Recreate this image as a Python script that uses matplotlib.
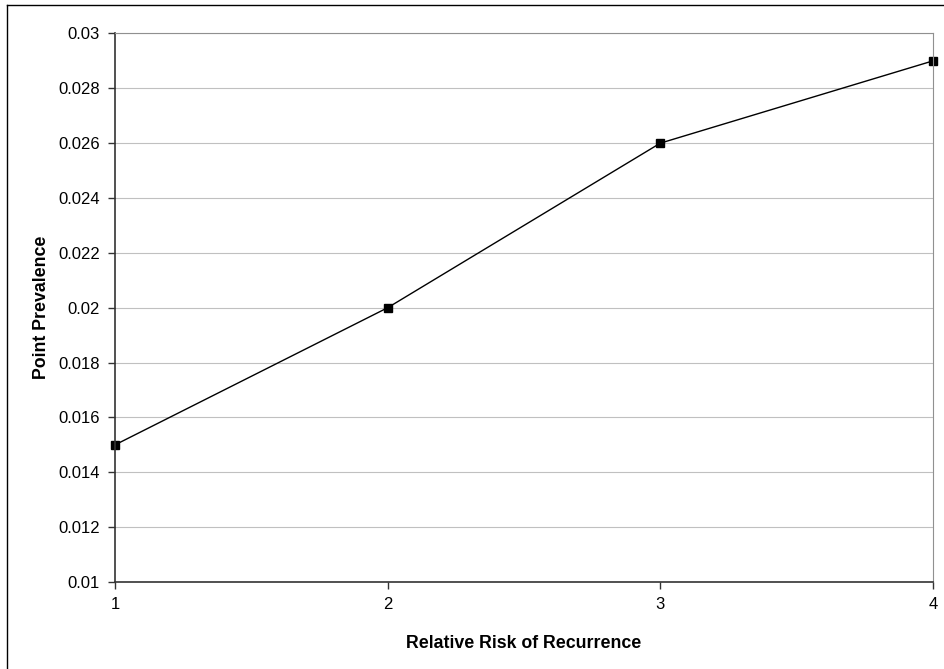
import matplotlib
matplotlib.use("Agg")
import matplotlib.pyplot as plt
from matplotlib.lines import Line2D

plt.rcParams["font.family"] = ["Liberation Sans", "DejaVu Sans"]

risk = [1, 2, 3, 4]
prevalence = [0.015, 0.020, 0.026, 0.029]
y_ticks = [0.01, 0.012, 0.014, 0.016, 0.018, 0.02, 0.022, 0.024, 0.026, 0.028, 0.03]
y_labels = ["0.01", "0.012", "0.014", "0.016", "0.018", "0.02", "0.022",
            "0.024", "0.026", "0.028", "0.03"]

fig = plt.figure(figsize=(9.44, 6.69), dpi=100)
ax = fig.add_axes([0.1218, 0.130, 0.8665, 0.820])

ax.plot(risk, prevalence, color="black", linewidth=1.0, clip_on=False,
        marker="s", markersize=6, markerfacecolor="black", markeredgecolor="black")

ax.set_xlim(1, 4)
ax.set_ylim(0.01, 0.03)
ax.set_xticks(risk)
ax.set_xticklabels([str(r) for r in risk])
ax.set_yticks(y_ticks)
ax.set_yticklabels(y_labels)
ax.yaxis.grid(True, color="#c0c0c0", linewidth=0.8)
ax.set_axisbelow(True)

ax.spines["top"].set_color("#909090")
ax.spines["right"].set_color("#909090")
ax.spines["left"].set_color("#333333")
ax.spines["bottom"].set_color("#333333")
ax.spines["left"].set_linewidth(1.2)
ax.spines["bottom"].set_linewidth(1.2)

ax.tick_params(axis="both", direction="out", length=5, width=1, color="#333333",
               labelsize=12, pad=6)

ax.set_xlabel("Relative Risk of Recurrence", fontsize=12.8, fontweight="bold", labelpad=16)
ax.set_ylabel("Point Prevalence", fontsize=12.8, fontweight="bold", labelpad=6)

# outer chart border (top and left edges visible)
fig.add_artist(Line2D([7 / 944, 7 / 944], [0, 1 - 5 / 669], color="black", linewidth=1,
                      transform=fig.transFigure))
fig.add_artist(Line2D([7 / 944, 1], [1 - 5 / 669, 1 - 5 / 669], color="black", linewidth=1,
                      transform=fig.transFigure))

fig.savefig("out.png", dpi=100)
